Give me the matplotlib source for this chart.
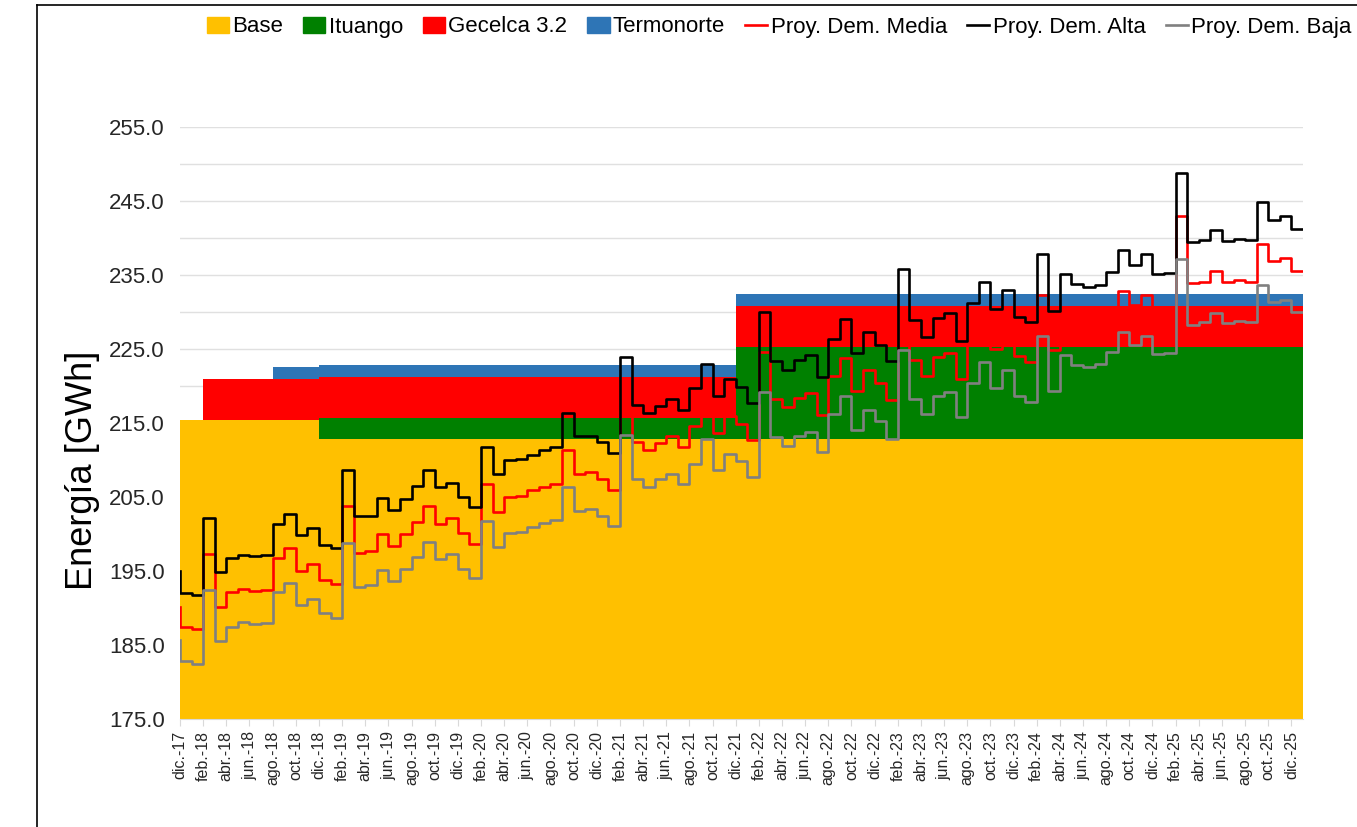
import numpy as np
import matplotlib
matplotlib.use('Agg')
import matplotlib.pyplot as plt
from matplotlib.lines import Line2D
from matplotlib.patches import Patch

plt.rcParams['font.family'] = ['Liberation Sans', 'DejaVu Sans']

# Months dic-17 .. dic-25 (97 months), step values per month

n_months = 97
month_abbr = ['ene.', 'feb.', 'mar.', 'abr.', 'may.', 'jun.',
              'jul.', 'ago.', 'sep.', 'oct.', 'nov.', 'dic.']

# Capacity blocks (GWh), constant plateaus
base = [215.4] * 12 + [212.8] * 85
ituango = [0.0] * 12 + [2.9] * 36 + [12.5] * 49
gecelca = [0.0] * 2 + [5.5] * 95
termonorte = [0.0] * 8 + [1.7] * 89

# Demand projections, value before dic-17 drawn as a vertical at the start
media_prev, alta_prev, baja_prev = 190.2, 195.0, 185.7

dem_media = [
    187.4, 187.1, 197.3, 190.2, 192.1, 192.6, 192.3, 192.5, 196.7, 198.1, 195.0, 195.9,
    193.8, 193.3, 203.8, 197.5, 197.7, 200.0, 198.4, 200.0, 201.6, 203.8, 201.4, 202.1,
    200.2, 198.7, 206.8, 203.0, 205.0, 205.2, 205.9, 206.4, 206.8, 211.4, 208.1, 208.4,
    207.4, 205.9, 218.6, 212.4, 211.4, 212.3, 213.2, 211.8, 214.6, 217.9, 213.7, 215.9,
    214.8, 212.7, 224.6, 218.3, 217.1, 218.4, 219.1, 216.1, 221.3, 223.8, 219.3, 222.1,
    220.4, 218.1, 230.3, 223.5, 221.4, 223.9, 224.5, 220.9, 225.8, 228.7, 225.0, 227.6,
    224.0, 223.2, 232.3, 224.8, 229.7, 228.3, 228.0, 228.3, 230.0, 232.8, 231.0, 232.3,
    229.7, 229.8, 243.0, 233.9, 234.1, 235.5, 234.0, 234.3, 234.1, 239.2, 236.9, 237.3,
    235.6]

dem_alta = [
    192.0, 191.8, 202.1, 194.9, 196.7, 197.2, 197.0, 197.2, 201.4, 202.7, 199.9, 200.8,
    198.5, 198.1, 208.7, 202.4, 202.4, 204.8, 203.2, 204.7, 206.5, 208.6, 206.4, 206.9,
    205.0, 203.6, 211.7, 208.1, 210.0, 210.1, 210.7, 211.3, 211.7, 216.3, 213.2, 213.3,
    212.4, 210.9, 223.9, 217.4, 216.3, 217.3, 218.2, 216.7, 219.7, 223.0, 218.7, 221.0,
    219.8, 217.7, 230.0, 223.4, 222.1, 223.5, 224.2, 221.2, 226.4, 229.0, 224.5, 227.3,
    225.6, 223.4, 235.8, 228.9, 226.6, 229.2, 229.9, 226.1, 231.2, 234.1, 230.4, 233.0,
    229.3, 228.6, 237.9, 230.2, 235.1, 233.8, 233.4, 233.6, 235.4, 238.4, 236.4, 237.8,
    235.1, 235.3, 248.8, 239.5, 239.7, 241.1, 239.6, 239.9, 239.7, 244.9, 242.5, 243.0,
    241.2]

dem_baja = [
    182.8, 182.5, 192.5, 185.6, 187.5, 188.1, 187.8, 188.0, 192.1, 193.4, 190.4, 191.2,
    189.3, 188.6, 198.8, 192.9, 193.1, 195.2, 193.7, 195.3, 196.9, 198.9, 196.6, 197.3,
    195.3, 194.0, 201.8, 198.2, 200.2, 200.3, 201.0, 201.5, 201.9, 206.4, 203.1, 203.4,
    202.4, 201.1, 213.4, 207.4, 206.4, 207.4, 208.1, 206.8, 209.5, 212.8, 208.7, 210.8,
    209.8, 207.7, 219.2, 213.1, 211.9, 213.2, 213.8, 211.1, 216.2, 218.6, 214.1, 216.8,
    215.3, 212.9, 224.9, 218.2, 216.2, 218.7, 219.2, 215.8, 220.4, 223.3, 219.7, 222.2,
    218.7, 217.8, 226.8, 219.3, 224.2, 222.8, 222.6, 223.0, 224.6, 227.3, 225.6, 226.8,
    224.3, 224.4, 237.2, 228.3, 228.6, 229.9, 228.5, 228.8, 228.6, 233.6, 231.3, 231.6,
    230.0]

# Tick labels (every 2 months, starting dic.-17)
tick_pos = np.arange(0, n_months, 2)
tick_labels = []
for p in tick_pos:
    m = (11 + p) % 12
    yr = 17 + (11 + p) // 12
    tick_labels.append(f"{month_abbr[m]}-{yr}")

# Figure

fig = plt.figure(figsize=(13.57, 8.27), dpi=100)
ax = fig.add_axes([180 / 1357, 1 - 719 / 827, 1123 / 1357, 592 / 827])

x = np.arange(n_months + 1)


def ext(v):
    v = np.asarray(v, dtype=float)
    return np.r_[v, v[-1]]


c_base, c_itu, c_gec, c_ter = '#FFC000', '#008000', '#FF0000', '#2E75B6'

s1 = ext(base)
s2 = s1 + ext(ituango)
s3 = s2 + ext(gecelca)
s4 = s3 + ext(termonorte)
ax.fill_between(x, 175, s1, step='post', color=c_base, lw=0)
ax.fill_between(x, s1, s2, step='post', color=c_itu, lw=0)
ax.fill_between(x, s2, s3, step='post', color=c_gec, lw=0)
ax.fill_between(x, s3, s4, step='post', color=c_ter, lw=0)

xl = np.r_[0, x]
for prev, vals, col in [(media_prev, dem_media, '#FF0000'),
                        (alta_prev, dem_alta, '#000000'),
                        (baja_prev, dem_baja, '#808080')]:
    ax.plot(xl, np.r_[prev, ext(vals)], drawstyle='steps-post', color=col, lw=1.9)

ax.set_xlim(0, n_months)
ax.set_ylim(175, 255)
ax.set_yticks(np.arange(175, 256, 10))
ax.set_yticks(np.arange(180, 255, 10), minor=True)
ax.yaxis.set_major_formatter(matplotlib.ticker.FormatStrFormatter('%.1f'))
ax.grid(axis='y', which='both', color='#e0e0e0', lw=1)
ax.set_axisbelow(True)
ax.tick_params(axis='y', which='both', length=0, labelsize=16, colors='#262626', pad=11)

ax.set_xticks(tick_pos)
ax.set_xticklabels(tick_labels, rotation=90)
ax.tick_params(axis='x', length=5, color='#d9d9d9', labelsize=11.5, labelcolor='#262626')

for side in ['top', 'right', 'left']:
    ax.spines[side].set_visible(False)
ax.spines['bottom'].set_color('#d9d9d9')

fig.text(82 / 1357, 1 - 470 / 827, 'Energía [GWh]', rotation=90, fontsize=26,
         ha='center', va='center', color='#000000')

handles = [Patch(color=c_base), Patch(color=c_itu), Patch(color=c_gec), Patch(color=c_ter),
           Line2D([], [], color='#FF0000', lw=1.9), Line2D([], [], color='#000000', lw=1.9),
           Line2D([], [], color='#808080', lw=1.9)]
labels = ['Base', 'Ituango', 'Gecelca 3.2', 'Termonorte',
          'Proy. Dem. Media', 'Proy. Dem. Alta', 'Proy. Dem. Baja']
fig.legend(handles, labels, loc='center', bbox_to_anchor=(779 / 1357, 1 - 27 / 827),
           ncol=7, frameon=False, fontsize=16, handlelength=1.0, handleheight=0.7,
           handletextpad=0.15, columnspacing=0.9, borderpad=0)

# Chart frame edges visible in the picture
fig.add_artist(Line2D([37 / 1357, 37 / 1357], [0, 1 - 5 / 827], transform=fig.transFigure,
                      color='black', lw=1.2))
fig.add_artist(Line2D([37 / 1357, 1], [1 - 5 / 827, 1 - 5 / 827], transform=fig.transFigure,
                      color='black', lw=1.2))

fig.savefig('out.png', dpi=100)
